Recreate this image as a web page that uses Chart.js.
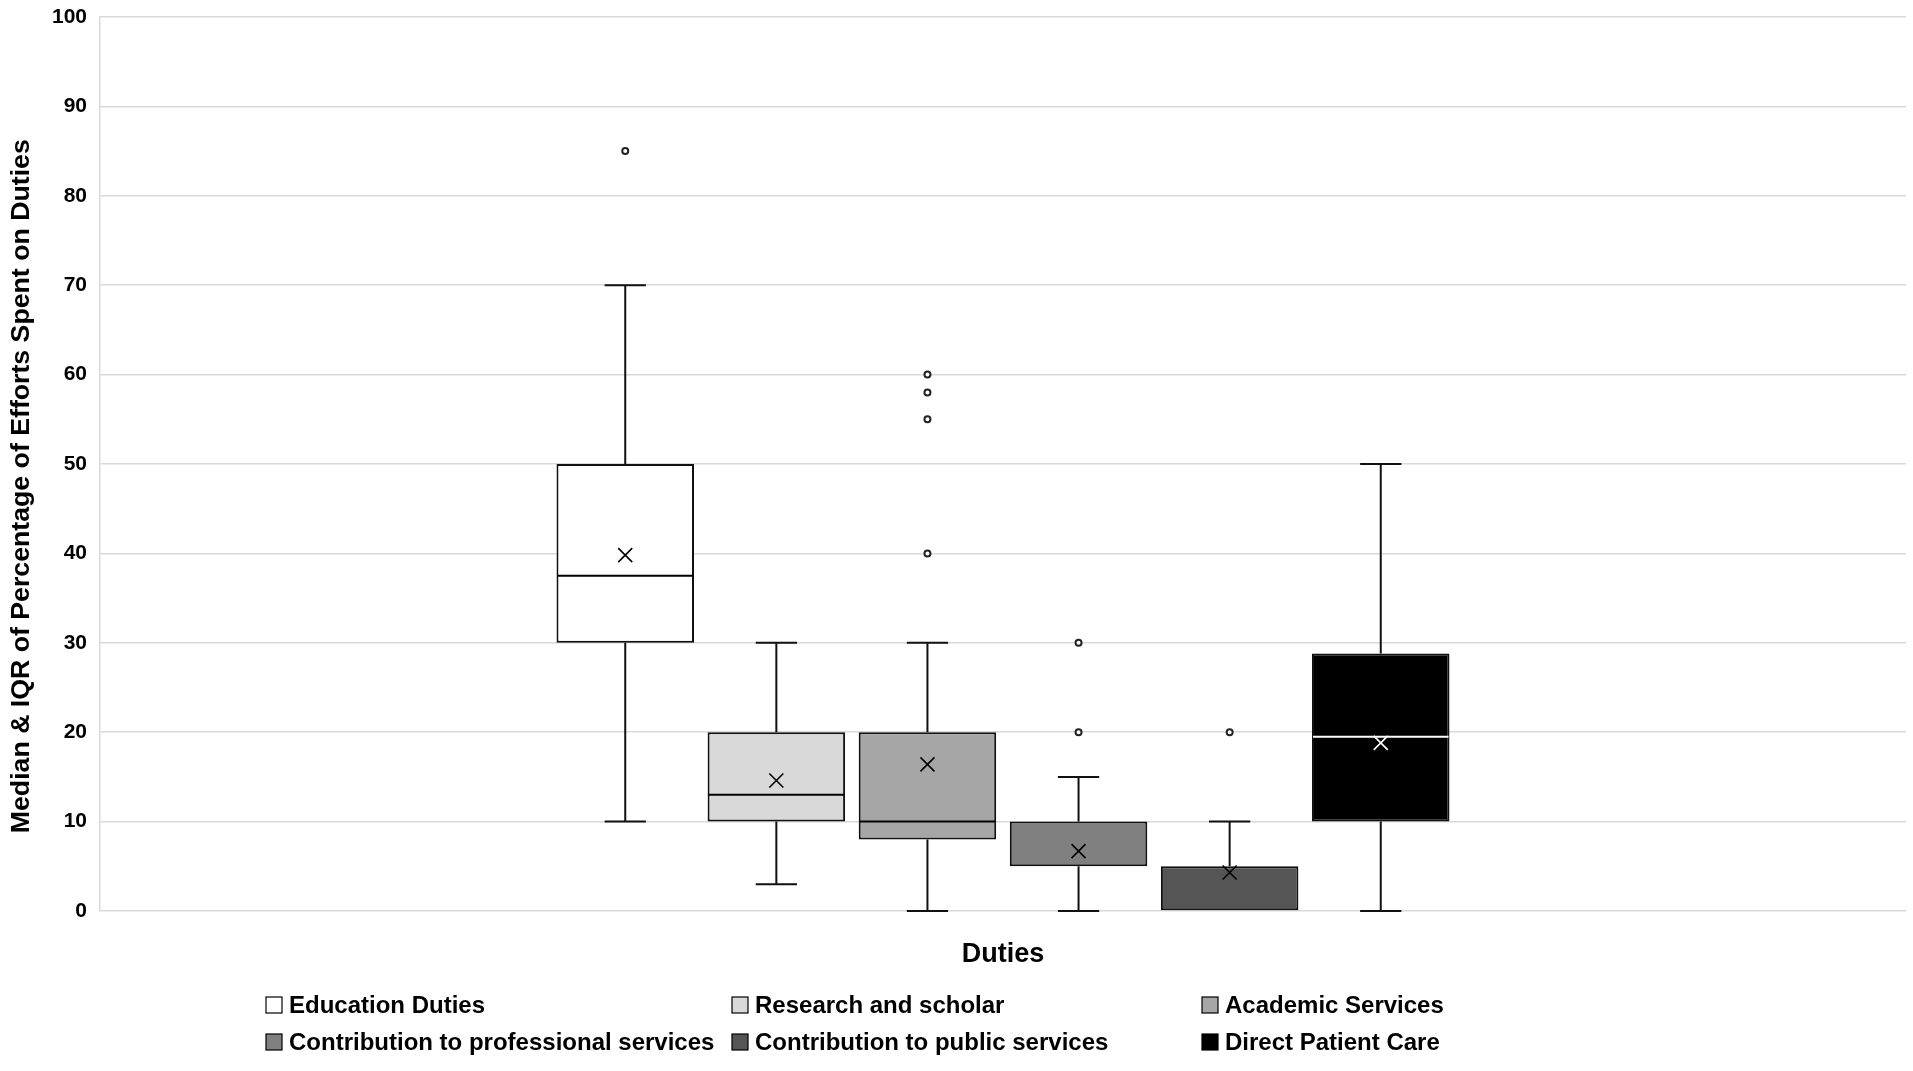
<!DOCTYPE html>
<html>
<head>
<meta charset="utf-8">
<script src="https://cdn.jsdelivr.net/npm/chart.js@4"></script>
<style>
  html, body { margin: 0; padding: 0; background: #fff; }
  #wrap { width: 100vw; height: 100vh; }
</style>
</head>
<body>
<div id="wrap"><canvas id="boxChart"></canvas></div>
<script>
// Data
const categories = [
  "Education Duties",
  "Research and scholar",
  "Academic Services",
  "Contribution to professional services",
  "Contribution to public services",
  "Direct Patient Care",
];
const whiskerMin = [10, 3, 0, 0, 0, 0];
const q1 = [30, 10, 8, 5, 0, 10];
const medians = [37.5, 13, 10, 5, 0, 19.5];
const q3 = [50, 20, 20, 10, 5, 28.8];
const whiskerMax = [70, 30, 30, 15, 10, 50];
const means = [39.8, 14.6, 16.4, 6.7, 4.3, 18.8];
const outliers = [[85], [], [40, 55, 58, 60], [20, 30], [20], []];
const yTicks = [0, 10, 20, 30, 40, 50, 60, 70, 80, 90, 100];

const fills = ["#ffffff", "#d9d9d9", "#a6a6a6", "#808080", "#555555", "#000000"];
const markColor = ["#000", "#000", "#000", "#000", "#000", "#fff"];

const FONT = "'Liberation Sans', Arial, sans-serif";

// whiskers, medians, means and outliers on top of the bars
const boxExtras = {
  id: "boxExtras",
  afterDatasetsDraw(chart) {
    const { ctx, scales: { y } } = chart;
    ctx.save();
    chart.data.datasets.forEach((ds, i) => {
      const bar = chart.getDatasetMeta(i).data[0];
      if (!bar) return;
      const x = bar.x;
      const half = bar.width / 2;
      const cap = bar.width * 0.15;
      const py = (v) => y.getPixelForValue(v);

      ctx.strokeStyle = "#111";
      ctx.lineWidth = 2;
      ctx.beginPath();
      // upper whisker
      ctx.moveTo(x, py(q3[i]));
      ctx.lineTo(x, py(whiskerMax[i]));
      ctx.moveTo(x - cap, py(whiskerMax[i]));
      ctx.lineTo(x + cap, py(whiskerMax[i]));
      // lower whisker
      if (whiskerMin[i] < q1[i]) {
        ctx.moveTo(x, py(q1[i]));
        ctx.lineTo(x, py(whiskerMin[i]));
        ctx.moveTo(x - cap, py(whiskerMin[i]));
        ctx.lineTo(x + cap, py(whiskerMin[i]));
      }
      ctx.stroke();

      // median (skip when it sits on the box edge)
      if (medians[i] > q1[i] && medians[i] < q3[i]) {
        ctx.strokeStyle = markColor[i];
        ctx.beginPath();
        ctx.moveTo(x - half + 1, py(medians[i]));
        ctx.lineTo(x + half - 1, py(medians[i]));
        ctx.stroke();
      }

      // mean
      ctx.strokeStyle = markColor[i];
      const m = py(means[i]);
      const s = 7;
      ctx.lineWidth = 1.6;
      ctx.beginPath();
      ctx.moveTo(x - s, m - s);
      ctx.lineTo(x + s, m + s);
      ctx.moveTo(x + s, m - s);
      ctx.lineTo(x - s, m + s);
      ctx.stroke();

      // outliers
      ctx.lineWidth = 2;
      ctx.strokeStyle = "#222";
      ctx.fillStyle = "#ffffff";
      outliers[i].forEach((v) => {
        ctx.beginPath();
        ctx.arc(x, py(v), 3, 0, Math.PI * 2);
        ctx.fill();
        ctx.stroke();
      });
    });
    ctx.restore();
  },
};

// legend in a 3-column grid under the axis title
const gridLegend = {
  id: "gridLegend",
  afterDraw(chart) {
    const { ctx, chartArea } = chart;
    const cols = [266, 732, 1202];
    const rows = [chartArea.bottom + 94, chartArea.bottom + 131];
    ctx.save();
    ctx.font = "bold 24px " + FONT;
    ctx.textBaseline = "middle";
    chart.data.datasets.forEach((ds, i) => {
      const cx = cols[i % 3];
      const cy = rows[Math.floor(i / 3)];
      ctx.fillStyle = ds.backgroundColor;
      ctx.fillRect(cx, cy - 8, 16, 16);
      ctx.strokeStyle = "#000";
      ctx.lineWidth = 1.2;
      ctx.strokeRect(cx, cy - 8, 16, 16);
      ctx.fillStyle = "#000";
      ctx.fillText(ds.label, cx + 23, cy + 1);
    });
    ctx.restore();
  },
};

const datasets = categories.map((name, i) => ({
  label: name,
  data: [[q1[i], q3[i]]],
  backgroundColor: fills[i],
  borderColor: "#111",
  borderWidth: 2,
  borderSkipped: false,
  categoryPercentage: 0.502,
  barPercentage: 0.91,
}));

new Chart(document.getElementById("boxChart"), {
  type: "bar",
  data: { labels: ["Duties"], datasets: datasets },
  options: {
    responsive: true,
    maintainAspectRatio: false,
    animation: false,
    layout: { padding: { top: 17, right: 7, bottom: 100, left: 0 } },
    plugins: {
      legend: { display: false },
      tooltip: { enabled: false },
    },
    scales: {
      x: {
        grid: { display: false },
        border: { display: false },
        ticks: { display: false },
        title: {
          display: true,
          text: "Duties",
          color: "#000",
          font: { family: FONT, size: 27, weight: "bold" },
          padding: 0,
        },
        afterFit(scale) { scale.height = 60; },
      },
      y: {
        min: 0,
        max: 100,
        afterBuildTicks(scale) { scale.ticks = yTicks.map((v) => ({ value: v })); },
        grid: { color: "#d9d9d9", lineWidth: 1.5, drawTicks: false },
        border: { display: true, color: "#d9d9d9", width: 1.5 },
        ticks: {
          color: "#000",
          padding: 13,
          font: { family: FONT, size: 21, weight: "bold" },
        },
        title: {
          display: true,
          // trailing spaces push the centred text a little down the axis, as in the original
          text: "Median & IQR of Percentage of Efforts Spent on Duties\u00a0\u00a0\u00a0\u00a0\u00a0\u00a0",
          color: "#000",
          font: { family: FONT, size: 26.7, weight: "bold" },
          padding: { top: 6, bottom: 0 },
        },
        afterFit(scale) {
          scale.width = 100;
          scale.paddingTop = 0;
          scale.paddingBottom = 0;
        },
      },
    },
  },
  plugins: [boxExtras, gridLegend],
});
</script>
</body>
</html>
